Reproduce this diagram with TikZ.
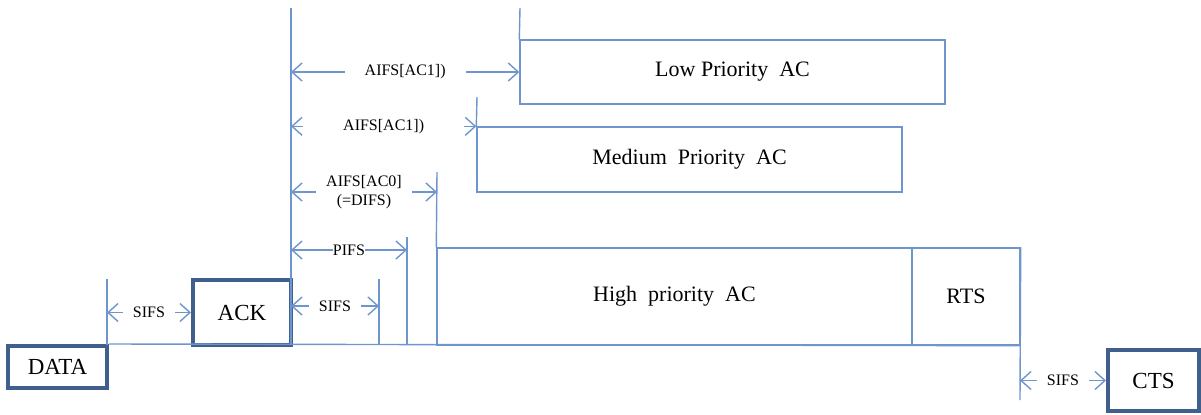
\documentclass[tikz,border=0pt]{standalone}
\usepackage{fontspec}
\setmainfont{Liberation Serif}
\usetikzlibrary{arrows.meta,fit}
\definecolor{lineblue}{RGB}{110,150,205}
\definecolor{frameblue}{RGB}{65,95,140}

\begin{document}
\begin{tikzpicture}[x=0.5pt,y=-0.5pt,
  tline/.style={lineblue, line width=0.7pt},
  frame/.style={draw=frameblue, line width=2pt, inner sep=0pt, label={[font=\fontsize{11.5}{13}\selectfont]center:#1}},
  acbox/.style={draw=lineblue, line width=0.7pt, inner sep=0pt, label={[font=\fontsize{11}{13}\selectfont]center:#1}},
  span/.style={lineblue, line width=0.7pt, {Straight Barb[length=5pt,width=9pt]}-{Straight Barb[length=5pt,width=9pt]}},
  gap/.style={fill=white, text=black, inner ysep=1pt, inner xsep=5pt, font=\fontsize{8}{9.5}\selectfont}]
		\useasboundingbox (0,0) rectangle (1201,414);
		
		% Time marks
		\coordinate (m0) at (291,8);   \coordinate (b0) at (291,345);
		\coordinate (m1) at (107,279); \coordinate (b1) at (107,345);
		\coordinate (m2) at (379,279); \coordinate (b2) at (379,345);
		\coordinate (m3) at (407,237); \coordinate (b3) at (407,345);
		\coordinate (m4) at (437,172);
		\coordinate (m5) at (477,97);
		\coordinate (m6) at (520,8);
		\coordinate (m7) at (1020,400);
		
		% Frames
		\node[frame=DATA, fit={(8,346) (107,388)}] (data) {};
		\node[frame=ACK, fit={(193,280) (291,345)}] (ack) {};
		\node[frame=CTS, fit={(1108,350) (1199,411)}] (cts) {};
		
		% Access categories
		\node[acbox={Low Priority\ \ AC}, fit={(520,40) (945,104)}] (low) {};
		\node[acbox={Medium\ \ Priority\ \ AC}, fit={(477,127) (902,192)}] (medium) {};
		\node[acbox={High\ \ priority\ \ AC}, fit={(437,248) (912,345)}] (high) {};
		\node[acbox=RTS, fit={(912,248) (1020,345)}] (rts) {};
		
		% Time line
		\draw[tline] (data.north east) -- (rts.south east);
		\draw[tline] (m0) -- (b0);
		\draw[tline] (m1) -- (b1);
		\draw[tline] (m2) -- (b2);
		\draw[tline] (m3) -- (b3);
		\draw[tline] (m4) -- (high.north west);
		\draw[tline] (m5) -- (medium.north west);
		\draw[tline] (m6) -- (low.north west);
		\draw[tline] (rts.north east) -- (m7);
		
		% Intervals
		\draw[span] (b1 |- ack.west) -- (ack.west) node[gap, midway] {SIFS};
		\draw[span] (b0 |- 0,306) -- (b2 |- 0,306) node[gap, midway] {SIFS};
		\draw[span] (b0 |- 0,250) -- (b3 |- 0,250) node[gap, midway, inner xsep=0pt] {PIFS};
		\draw[span] (b0 |- 0,192) -- (m4 |- 0,192) node[gap, midway, align=center] {AIFS[AC0]\\(=DIFS)};
		\draw[span] (b0 |- medium.north) -- (medium.north west) node[gap, midway, inner xsep=20pt] {AIFS[AC1])};
		\draw[span] (b0 |- low.west) -- (low.west) node[gap, midway, inner xsep=10pt] {AIFS[AC1])};
		\draw[span] (m7 |- cts.west) -- (cts.west) node[gap, midway] {SIFS};
	\end{tikzpicture}
\end{document}
